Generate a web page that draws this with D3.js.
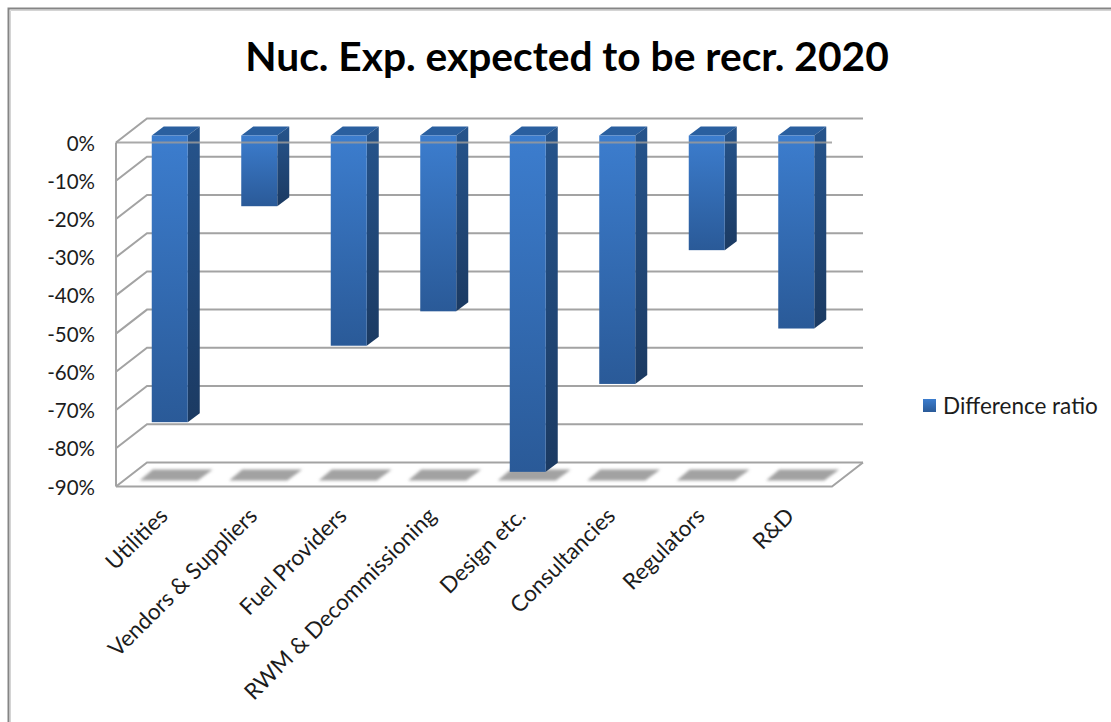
<!DOCTYPE html>
<html><head><meta charset="utf-8">
<script src="https://cdn.jsdelivr.net/npm/d3@7/dist/d3.min.js"></script>
<style>html,body{margin:0;padding:0;background:#fff}svg{display:block}text{font-family:Lato,"Open Sans",sans-serif;fill:#1c1c1c}</style>
</head><body><svg id="c" width="1111" height="722"></svg>
<script>
const categories=["Utilities","Vendors & Suppliers","Fuel Providers","RWM & Decommissioning","Design etc.","Consultancies","Regulators","R&D"];
const differenceRatio=[-75,-18.5,-55,-46,-88,-65,-30,-50.5];
const yTicks=[0,-10,-20,-30,-40,-50,-60,-70,-80,-90];
const seriesName="Difference ratio";
const titleText="Nuc. Exp. expected to be recr. 2020";

const svg=d3.select("#c");
const defs=svg.append("defs");
function grad(id,a,b){const g=defs.append("linearGradient").attr("id",id).attr("x1",0).attr("y1",0).attr("x2",0).attr("y2",1);
 g.append("stop").attr("offset","0%").attr("stop-color",a);g.append("stop").attr("offset","100%").attr("stop-color",b);}
grad("front","#3c7dce","#2a5a98");grad("side","#26548c","#1b3a62");grad("leg","#3c7dce","#2a5a98");
defs.append("filter").attr("id","blur").attr("x","-20%").attr("y","-40%").attr("width","140%").attr("height","180%").append("feGaussianBlur").attr("stdDeviation",1.4);

// border
svg.append("path").attr("d","M8.5,722V8.5H1111").attr("fill","none").attr("stroke","#858585").attr("stroke-width",2);
svg.append("path").attr("d","M10.5,722V10.5H1111").attr("fill","none").attr("stroke","#d4d4d4").attr("stroke-width",1);

const y=d3.scaleLinear().domain([0,-90]).range([142.5,486.5]);
const x=d3.scaleBand().domain(categories).range([116,832]);
const wallDx=31,wallDy=-24,barPlaneDx=9,barPlaneDy=-7,barDx=12,barDy=-9,barW=36;
const gridC="#a3a3a3";

const grid=svg.append("g").attr("fill","none").attr("stroke",gridC).attr("stroke-width",2);
yTicks.forEach(t=>{
 const p=y(t);
 grid.append("path").attr("d",`M${x.range()[0]},${p}L${x.range()[0]+wallDx},${p+wallDy}H${x.range()[1]+wallDx}`);
});
grid.append("path").attr("d",`M${x.range()[0]},${y(-90)}H${x.range()[1]}L${x.range()[1]+wallDx},${y(-90)+wallDy}`);
grid.append("path").attr("d",`M${x.range()[0]},${y(0)}V${y(-90)}`);

svg.append("g").selectAll("path").data(categories).join("path")
 .attr("filter","url(#blur)").attr("fill","#a2a2a2")
 .attr("d",c=>{const l=x(c)+x.bandwidth()/2-barW/2+barPlaneDx,f=y(-90);
   return `M${l-12},${f-6}L${l+1},${f-17}H${l+61}L${l+46},${f-6}Z`;});

const bars=svg.append("g").selectAll("g").data(categories.map((c,i)=>({c,v:differenceRatio[i]}))).join("g")
 .attr("transform",d=>`translate(${x(d.c)+x.bandwidth()/2-barW/2+barPlaneDx},${barPlaneDy})`);
bars.append("path").attr("fill","#2a5f9f")
 .attr("d",`M0,${y(0)}l${barDx},${barDy}h${barW}l${-barDx},${-barDy}Z`);
bars.append("path").attr("fill","url(#side)")
 .attr("d",d=>`M${barW},${y(0)}l${barDx},${barDy}V${y(d.v)+barDy}l${-barDx},${-barDy}Z`);
bars.append("rect").attr("fill","url(#front)").attr("x",0).attr("y",y(0)).attr("width",barW).attr("height",d=>y(d.v)-y(0));

svg.append("line").attr("x1",x.range()[0]).attr("x2",x.range()[1]).attr("y1",y(0)).attr("y2",y(0))
 .attr("stroke","#9a9a9a").attr("stroke-opacity",.85).attr("stroke-width",2);

const fmt=d=>d+"%";
const ya=svg.append("g").attr("transform","translate(95,1)")
 .call(d3.axisLeft(y).tickValues(yTicks).tickFormat(fmt).tickSize(0).tickPadding(0));
ya.select(".domain").remove();
ya.selectAll("text").style("font-size","20.5px");
const xa=svg.append("g").attr("transform","translate(-3,506)")
 .call(d3.axisBottom(x).tickSize(0).tickPadding(0));
xa.select(".domain").remove();
xa.selectAll("text").style("font-size","22.5px").attr("text-anchor","end").attr("dy","0.71em")
 .attr("transform","rotate(-45)");

svg.append("text").attr("x",567).attr("y",71).attr("text-anchor","middle")
 .style("font-size","40.7px").style("font-weight","700").style("fill","#000").text(titleText);

svg.append("rect").attr("x",923).attr("y",399).attr("width",13).attr("height",13).attr("fill","url(#leg)");
svg.append("text").attr("x",943).attr("y",414).style("font-size","22.5px").text(seriesName);
</script></body></html>
